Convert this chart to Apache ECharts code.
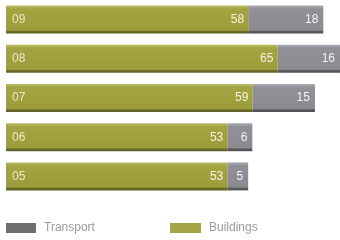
<!DOCTYPE html>
<html>
<head>
<meta charset="utf-8">
<script src="https://cdn.jsdelivr.net/npm/echarts@6/dist/echarts.min.js"></script>
<style>
html,body{margin:0;padding:0;background:#fff;}
#main{width:340px;height:240px;}
</style>
</head>
<body>
<div id="main"></div>
<script>
var years = ['05', '06', '07', '08', '09'];
var buildings = [53, 53, 59, 65, 58];
var transport = [5, 6, 15, 16, 18];

var font = '"Liberation Sans Narrow", "Liberation Sans", sans-serif';
var legendText = { color: '#9a9a9a', fontSize: 12, fontFamily: '"Liberation Sans", sans-serif', padding: [0, 0, 0, 3] };

var myChart = echarts.init(document.getElementById('main'));
var option = {
    animation: false,
    grid: {
        left: 6,
        right: 0,
        top: 0,
        height: 196
    },
    legend: [
        {
            left: 6,
            top: 222,
            padding: 0,
            itemWidth: 30,
            itemHeight: 10,
            icon: 'rect',
            textStyle: legendText,
            data: [{ name: 'Transport', itemStyle: { color: '#707072' } }]
        },
        {
            left: 170,
            top: 222,
            padding: 0,
            itemWidth: 31,
            itemHeight: 10,
            icon: 'rect',
            textStyle: legendText,
            data: [{ name: 'Buildings', itemStyle: { color: '#a6a646' } }]
        }
    ],
    xAxis: {
        type: 'value',
        min: 0,
        max: 80,
        show: false
    },
    yAxis: {
        type: 'category',
        data: years,
        z: 10,
        axisLine: { show: false },
        axisTick: { show: false },
        splitLine: { show: false },
        axisLabel: {
            inside: true,
            margin: 6,
            color: '#e8e8c8',
            fontSize: 12,
            fontFamily: font
        }
    },
    series: [
        {
            name: 'Buildings',
            type: 'bar',
            stack: 'all',
            barWidth: 28,
            data: buildings,
            itemStyle: {
                color: new echarts.graphic.LinearGradient(0, 0, 0, 1, [
                    { offset: 0, color: '#bcbc66' },
                    { offset: 0.12, color: '#a4a442' },
                    { offset: 0.88, color: '#9c9c3a' },
                    { offset: 0.92, color: '#6e6e2a' },
                    { offset: 1, color: '#5e5e24' }
                ])
            },
            label: {
                show: true,
                position: 'insideRight',
                distance: 4,
                color: '#f4f4e4',
                fontSize: 12,
                fontFamily: font
            }
        },
        {
            name: 'Transport',
            type: 'bar',
            stack: 'all',
            barWidth: 28,
            data: transport,
            itemStyle: {
                color: new echarts.graphic.LinearGradient(0, 0, 0, 1, [
                    { offset: 0, color: '#acacb2' },
                    { offset: 0.12, color: '#909096' },
                    { offset: 0.88, color: '#8a8a90' },
                    { offset: 0.92, color: '#5c5c60' },
                    { offset: 1, color: '#4e4e52' }
                ])
            },
            label: {
                show: true,
                position: 'insideRight',
                distance: 5,
                color: '#f4f4f4',
                fontSize: 12,
                fontFamily: font
            }
        }
    ]
};
myChart.setOption(option);
</script>
</body>
</html>
